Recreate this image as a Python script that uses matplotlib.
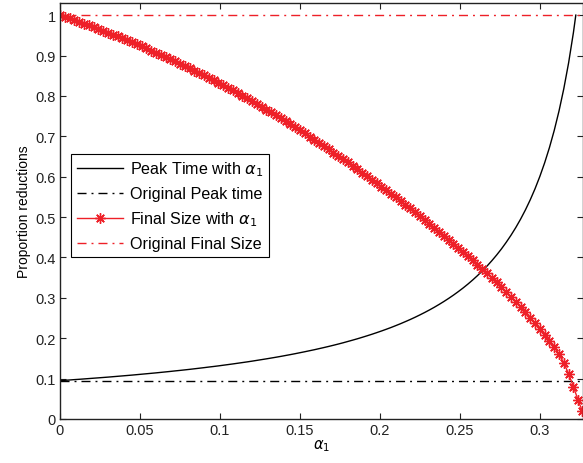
import matplotlib
matplotlib.use("Agg")
import matplotlib.pyplot as plt

plt.rcParams['font.family'] = ['Liberation Sans', 'DejaVu Sans']
plt.rcParams['mathtext.fontset'] = 'dejavusans'

# alpha_1 values (shared grid)
alpha = [0.000, 0.003, 0.006, 0.009, 0.012, 0.015, 0.018, 0.021, 0.024, 0.027,
         0.030, 0.033, 0.036, 0.039, 0.042, 0.045, 0.048, 0.051, 0.054, 0.057,
         0.060, 0.063, 0.066, 0.069, 0.072, 0.075, 0.078, 0.081, 0.084, 0.087,
         0.090, 0.093, 0.096, 0.099, 0.102, 0.105, 0.108, 0.111, 0.114, 0.117,
         0.120, 0.123, 0.126, 0.129, 0.132, 0.135, 0.138, 0.141, 0.144, 0.147,
         0.150, 0.153, 0.156, 0.159, 0.162, 0.165, 0.168, 0.171, 0.174, 0.177,
         0.180, 0.183, 0.186, 0.189, 0.192, 0.195, 0.198, 0.201, 0.204, 0.207,
         0.210, 0.213, 0.216, 0.219, 0.222, 0.225, 0.228, 0.231, 0.234, 0.237,
         0.240, 0.243, 0.246, 0.249, 0.252, 0.255, 0.258, 0.261, 0.264, 0.267,
         0.270, 0.273, 0.276, 0.279, 0.282, 0.285, 0.288, 0.291, 0.294, 0.297,
         0.300, 0.303, 0.306, 0.309, 0.312, 0.315, 0.318, 0.321, 0.324, 0.3265]

final_size = [1.0000, 0.9959, 0.9918, 0.9876, 0.9833, 0.9790, 0.9747, 0.9702, 0.9658, 0.9612,
              0.9566, 0.9519, 0.9472, 0.9424, 0.9375, 0.9326, 0.9276, 0.9226, 0.9175, 0.9123,
              0.9070, 0.9017, 0.8963, 0.8909, 0.8854, 0.8798, 0.8741, 0.8684, 0.8626, 0.8567,
              0.8508, 0.8447, 0.8387, 0.8325, 0.8263, 0.8199, 0.8136, 0.8071, 0.8006, 0.7939,
              0.7872, 0.7803, 0.7733, 0.7662, 0.7590, 0.7518, 0.7446, 0.7372, 0.7298, 0.7223,
              0.7147, 0.7071, 0.6994, 0.6916, 0.6837, 0.6758, 0.6678, 0.6598, 0.6517, 0.6435,
              0.6352, 0.6269, 0.6185, 0.6100, 0.6014, 0.5928, 0.5841, 0.5754, 0.5666, 0.5577,
              0.5487, 0.5396, 0.5305, 0.5213, 0.5120, 0.5025, 0.4930, 0.4834, 0.4737, 0.4639,
              0.4540, 0.4440, 0.4340, 0.4238, 0.4135, 0.4032, 0.3927, 0.3822, 0.3715, 0.3607,
              0.3496, 0.3382, 0.3265, 0.3145, 0.3023, 0.2898, 0.2770, 0.2639, 0.2505, 0.2368,
              0.2229, 0.2080, 0.1940, 0.1780, 0.1600, 0.1390, 0.1120, 0.0800, 0.0460, 0.0200]

# peak time curve (ends where it reaches 1)
alpha_peak = alpha[:108] + [0.3225]
peak_time = [0.0950, 0.0958, 0.0966, 0.0975, 0.0983, 0.0992, 0.1001, 0.1010, 0.1019, 0.1028,
             0.1037, 0.1047, 0.1057, 0.1067, 0.1077, 0.1087, 0.1098, 0.1109, 0.1120, 0.1131,
             0.1142, 0.1154, 0.1166, 0.1178, 0.1191, 0.1203, 0.1216, 0.1229, 0.1243, 0.1257,
             0.1271, 0.1286, 0.1300, 0.1315, 0.1331, 0.1347, 0.1363, 0.1380, 0.1397, 0.1414,
             0.1432, 0.1451, 0.1470, 0.1489, 0.1509, 0.1529, 0.1550, 0.1572, 0.1594, 0.1617,
             0.1641, 0.1665, 0.1690, 0.1715, 0.1742, 0.1769, 0.1797, 0.1826, 0.1856, 0.1887,
             0.1920, 0.1953, 0.1987, 0.2023, 0.2060, 0.2098, 0.2138, 0.2179, 0.2222, 0.2266,
             0.2313, 0.2361, 0.2412, 0.2464, 0.2519, 0.2577, 0.2637, 0.2700, 0.2766, 0.2836,
             0.2909, 0.2986, 0.3067, 0.3153, 0.3243, 0.3339, 0.3441, 0.3549, 0.3665, 0.3787,
             0.3919, 0.4060, 0.4211, 0.4375, 0.4551, 0.4742, 0.4950, 0.5177, 0.5426, 0.5700,
             0.6004, 0.6341, 0.6718, 0.7143, 0.7626, 0.8179, 0.8818, 0.9565, 1.0000]

orig_peak = 0.093
orig_final = 1.0

xticks = [0, 0.05, 0.1, 0.15, 0.2, 0.25, 0.3]
xticklabels = ['0', '0.05', '0.1', '0.15', '0.2', '0.25', '0.3']
yticks = [0, 0.1, 0.2, 0.3, 0.4, 0.5, 0.6, 0.7, 0.8, 0.9, 1.0]
yticklabels = ['0', '0.1', '0.2', '0.3', '0.4', '0.5', '0.6', '0.7', '0.8', '0.9', '1']

red = '#ee2028'
dashdot = (0, (6.5, 3.6, 1.4, 3.6))
asterisk = (8, 2, 0)   # MATLAB-like '*' (plus and cross)

fig = plt.figure(figsize=(5.83, 4.64), dpi=100)
ax = fig.add_axes([60 / 583, 44 / 464, 523 / 583, 416 / 464])

ax.plot(alpha_peak, peak_time, color='black', lw=1.0, label=r'Peak Time with $\alpha_1$')
ax.axhline(orig_peak, color='black', lw=1.0, linestyle=dashdot, label='Original Peak time')
ax.plot(alpha, final_size, color=red, lw=1.0, marker=asterisk, markersize=7.5,
        markeredgewidth=1.0, label=r'Final Size with $\alpha_1$')
ax.axhline(orig_final, color=red, lw=1.0, linestyle=dashdot, label='Original Final Size')

ax.set_xlim(0, 0.327)
ax.set_ylim(0, 1.03)
ax.set_xticks(xticks)
ax.set_xticklabels(xticklabels)
ax.set_yticks(yticks)
ax.set_yticklabels(yticklabels)
ax.tick_params(direction='in', top=True, right=True, length=4, width=0.8,
               labelsize=10.5, colors='#222222', pad=3)
for s in ax.spines.values():
    s.set_linewidth(1.0)
    s.set_color('#222222')

ax.set_xlabel(r'$\alpha_1$', fontsize=10.5, labelpad=0)
ax.set_ylabel('Proportion reductions', fontsize=10, labelpad=3)

leg = ax.legend(loc='upper left', bbox_to_anchor=(0.021, 0.637), fontsize=11.6,
                numpoints=1, handlelength=2.9, handletextpad=0.4, borderpad=0.35,
                labelspacing=0.5, fancybox=False, framealpha=1, borderaxespad=0)
leg.get_frame().set_edgecolor('black')
leg.get_frame().set_linewidth(0.8)

fig.savefig('out.png', dpi=100)
